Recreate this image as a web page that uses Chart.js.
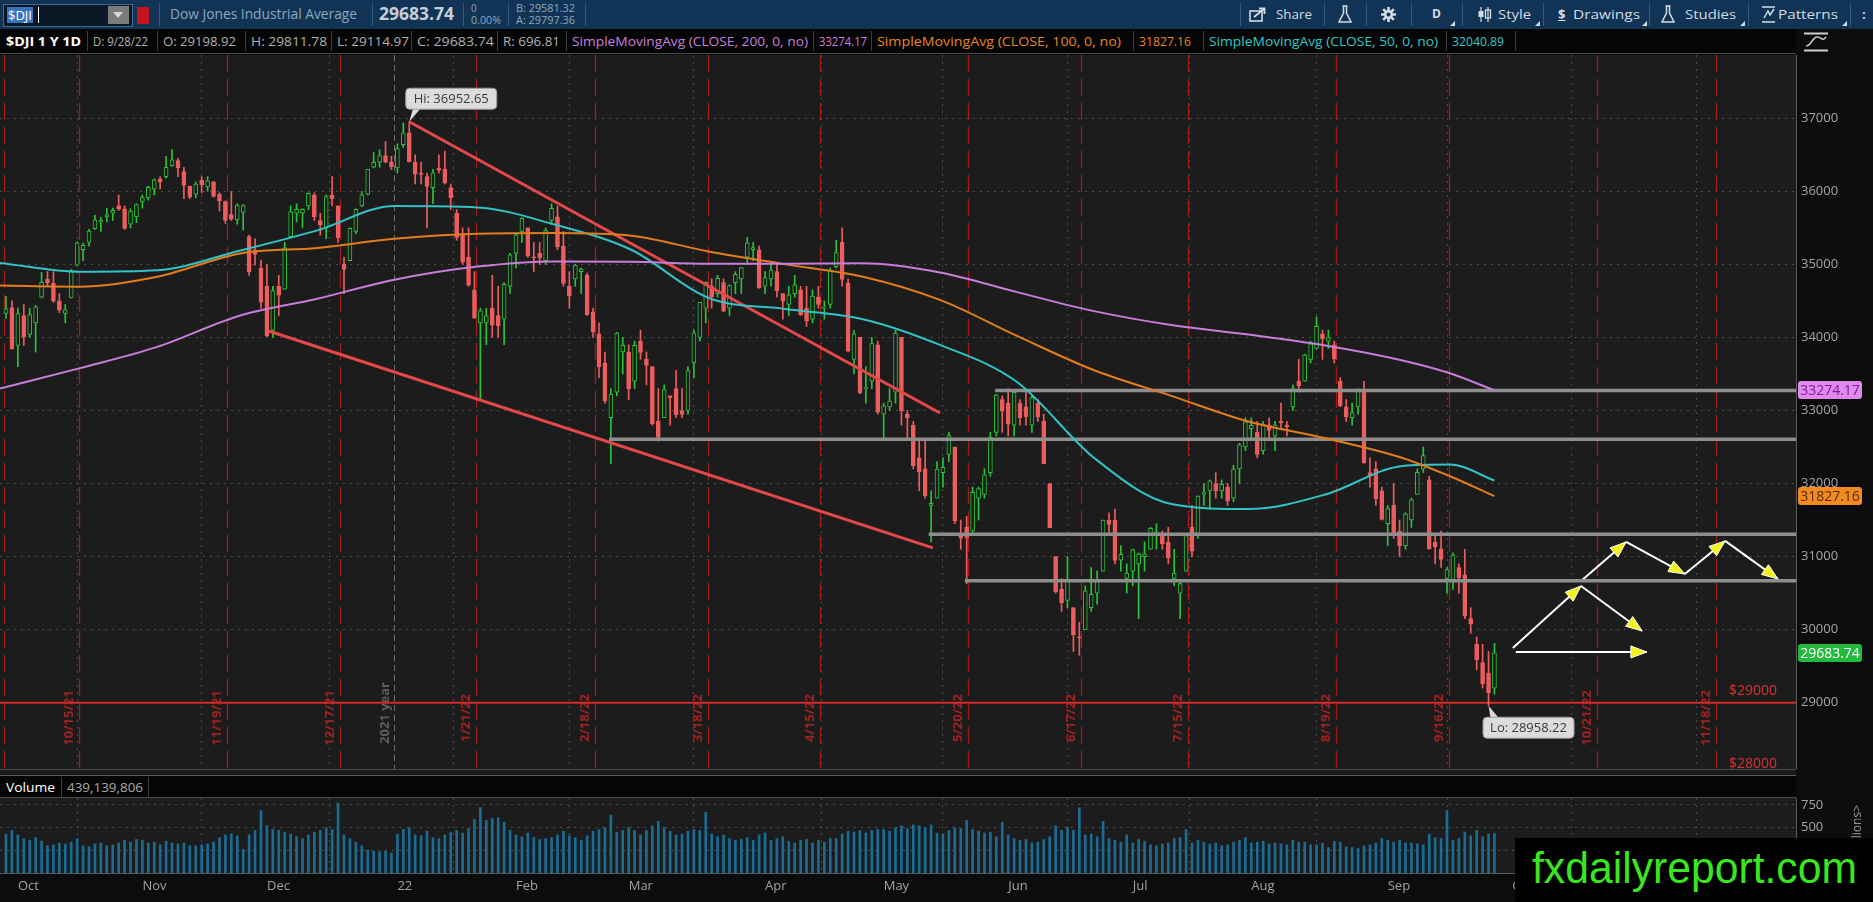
<!DOCTYPE html>
<html>
<head>
<meta charset="utf-8">
<title>$DJI 1 Y 1D</title>
<script src="https://cdn.jsdelivr.net/npm/chart.js@4.4.1/dist/chart.umd.min.js"></script>
<style>
  html, body { margin: 0; padding: 0; }
  body { width: 1873px; height: 902px; overflow: hidden; position: relative; background: #0c0c0c;
         font-family: "Open Sans", "Liberation Sans", sans-serif; color: #b0b0b0; }
  .abs { position: absolute; white-space: nowrap; }
  .fit { display: inline-block; transform-origin: 0 50%; white-space: nowrap; }
  #topbar { left: 0; top: 0; width: 1873px; height: 29px; background: #113456; }
  .sep { position: absolute; top: 3px; width: 1px; height: 23px; background: #2d5a80; }
  .tb { position: absolute; top: 5px; font-size: 13px; line-height: 18px; color: #d3dbe4; }
  #row2 { left: 0; top: 29px; width: 1796px; height: 24px; background: #050505; border-bottom: 1px solid #4a4a4a; }
  .cell { position: absolute; top: 2px; height: 20px; line-height: 20px; font-size: 13px; border-right: 1px solid #3c3c3c; }
  .cell span { margin-left: 6px; }
  canvas { position: absolute; left: 0; }
</style>
</head>
<body>

<div id="topbar" class="abs">
  <div class="abs" style="left:3px;top:4px;width:128px;height:21px;background:#0a1826;border:1px solid #3f6b93;"></div>
  <div class="abs" style="left:7px;top:7px;height:16px;line-height:16px;padding:0 1px;background:#3a72c2;color:#fff;font-size:13px;">$DJI</div>
  <div class="abs" style="left:38px;top:7px;width:1px;height:16px;background:#fff;"></div>
  <div class="abs" style="left:108px;top:6px;width:21px;height:18px;background:#7b7b7b;"></div>
  <svg class="abs" style="left:113px;top:12px" width="11" height="7"><path d="M0 0 H10 L5 6 Z" fill="#d8d8d8"/></svg>
  <div class="abs" style="left:137px;top:7px;width:12px;height:17px;background:#c3161b;"></div>
  <div class="sep" style="left:159px"></div>
  <div class="tb" style="left:170px;font-size:14px;color:#8ea6bf;top:5px"><span class="fit" data-w="187">Dow Jones Industrial Average</span></div>
  <div class="sep" style="left:372px"></div>
  <div class="tb" style="left:379px;top:4px;font-size:17px;font-weight:bold;color:#c6cfd8;line-height:20px"><span class="fit" data-w="75">29683.74</span></div>
  <div class="sep" style="left:463px"></div>
  <div class="abs" style="left:471px;top:2px;font-size:10px;line-height:12px;color:#8ea6bf">0<br><span class="fit" data-w="30">0.00%</span></div>
  <div class="sep" style="left:508px"></div>
  <div class="abs" style="left:516px;top:2px;font-size:10px;line-height:12px;color:#8ea6bf"><span class="fit" data-w="59">B: 29581.32</span><br><span class="fit" data-w="59">A: 29797.36</span></div>
  <div class="sep" style="left:585px"></div>

  <div class="sep" style="left:1240px"></div>
  <svg class="abs" style="left:1249px;top:6px" width="19" height="17"><rect x="1" y="5" width="12" height="10" fill="none" stroke="#d3dbe4" stroke-width="1.6"/><path d="M5 11 L15 3 M10 2.5 H15.5 V8" stroke="#d3dbe4" stroke-width="1.8" fill="none"/></svg>
  <div class="tb" style="left:1276px"><span class="fit" data-w="36">Share</span></div>
  <div class="sep" style="left:1324px"></div>
  <svg class="abs" style="left:1338px;top:5px" width="14" height="19"><path d="M4.5 1 H9.5 M5.5 1 V8 L1 17 H13 L8.5 8 V1" fill="none" stroke="#d3dbe4" stroke-width="1.5"/></svg>
  <div class="sep" style="left:1366px"></div>
  <svg class="abs" style="left:1380px;top:6px" width="17" height="17"><g stroke="#d3dbe4" stroke-width="2.6"><path d="M8.5 1 V16 M1 8.5 H16 M3.2 3.2 L13.8 13.8 M13.8 3.2 L3.2 13.8"/></g><circle cx="8.5" cy="8.5" r="4.6" fill="#d3dbe4"/><circle cx="8.5" cy="8.5" r="2" fill="#113456"/></svg>
  <div class="sep" style="left:1411px"></div>
  <div class="tb" style="left:1432px;font-weight:bold;font-size:12px">D</div>
  <svg class="abs" style="left:1450px;top:21px" width="5" height="5"><path d="M5 0 V5 H0 Z" fill="#d3dbe4"/></svg>
  <div class="sep" style="left:1462px"></div>
  <svg class="abs" style="left:1477px;top:6px" width="16" height="17"><path d="M4 1 V16 M11 1 V16" stroke="#d3dbe4" stroke-width="1.2"/><rect x="1.5" y="5" width="5" height="6" fill="#d3dbe4"/><rect x="8.5" y="4" width="5" height="8" fill="none" stroke="#d3dbe4" stroke-width="1.3"/></svg>
  <div class="tb" style="left:1498px"><span class="fit" data-w="33">Style</span></div>
  <svg class="abs" style="left:1535px;top:21px" width="5" height="5"><path d="M5 0 V5 H0 Z" fill="#d3dbe4"/></svg>
  <div class="sep" style="left:1543px"></div>
  <div class="tb" style="left:1558px;font-weight:bold;text-decoration:underline">$</div>
  <div class="tb" style="left:1573px"><span class="fit" data-w="67">Drawings</span></div>
  <svg class="abs" style="left:1642px;top:21px" width="5" height="5"><path d="M5 0 V5 H0 Z" fill="#d3dbe4"/></svg>
  <div class="sep" style="left:1649px"></div>
  <svg class="abs" style="left:1661px;top:5px" width="14" height="19"><path d="M4.5 1 H9.5 M5.5 1 V8 L1 17 H13 L8.5 8 V1" fill="none" stroke="#d3dbe4" stroke-width="1.5"/></svg>
  <div class="tb" style="left:1685px"><span class="fit" data-w="51">Studies</span></div>
  <svg class="abs" style="left:1740px;top:21px" width="5" height="5"><path d="M5 0 V5 H0 Z" fill="#d3dbe4"/></svg>
  <div class="sep" style="left:1748px"></div>
  <svg class="abs" style="left:1761px;top:5px" width="15" height="19"><path d="M1 2 H14 M1 17 H14 M3 13 L7 6 L9 10 L13 4" stroke="#d3dbe4" stroke-width="1.5" fill="none"/></svg>
  <div class="tb" style="left:1778px"><span class="fit" data-w="60">Patterns</span></div>
  <svg class="abs" style="left:1842px;top:21px" width="5" height="5"><path d="M5 0 V5 H0 Z" fill="#d3dbe4"/></svg>
  <div class="sep" style="left:1850px"></div>
  <div class="tb" style="left:1862px;font-weight:bold">:</div>
</div>

<div id="row2" class="abs">
  <div class="cell" style="left:0;width:87px;color:#ffffff;font-weight:bold"><span class="fit" data-w="75">$DJI 1 Y 1D</span></div>
  <div class="cell" style="left:87px;width:70px"><span class="fit" data-w="55">D: 9/28/22</span></div>
  <div class="cell" style="left:157px;width:88px"><span class="fit" data-w="73">O: 29198.92</span></div>
  <div class="cell" style="left:245px;width:86px"><span class="fit" data-w="76">H: 29811.78</span></div>
  <div class="cell" style="left:331px;width:80px"><span class="fit" data-w="72">L: 29114.97</span></div>
  <div class="cell" style="left:411px;width:86px"><span class="fit" data-w="77">C: 29683.74</span></div>
  <div class="cell" style="left:497px;width:69px"><span class="fit" data-w="57">R: 696.81</span></div>
  <div class="cell" style="left:566px;width:247px;color:#c97fdc"><span class="fit" data-w="236">SimpleMovingAvg (CLOSE, 200, 0, no)</span></div>
  <div class="cell" style="left:813px;width:58px;color:#c97fdc"><span class="fit" data-w="48">33274.17</span></div>
  <div class="cell" style="left:871px;width:262px;color:#e8841f"><span class="fit" data-w="244">SimpleMovingAvg (CLOSE, 100, 0, no)</span></div>
  <div class="cell" style="left:1133px;width:70px;color:#e8841f"><span class="fit" data-w="52">31827.16</span></div>
  <div class="cell" style="left:1203px;width:243px;color:#33c7c9"><span class="fit" data-w="229">SimpleMovingAvg (CLOSE, 50, 0, no)</span></div>
  <div class="cell" style="left:1446px;width:69px;color:#33c7c9"><span class="fit" data-w="52">32040.89</span></div>
</div>
<svg class="abs" style="left:1802px;top:32px" width="28" height="20"><path d="M2 1.5 H26 M2 18.5 H26" stroke="#d0d0d0" stroke-width="2"/><path d="M4 14 C 10 14, 10 5, 15 5 S 20 10, 24 5" stroke="#d0d0d0" stroke-width="1.6" fill="none"/></svg>

<canvas id="main" width="1873" height="714" style="top:55px"></canvas>

<div class="abs" style="left:0;top:769px;width:1796px;height:1px;background:#4a4a4a"></div>
<div class="abs" style="left:0;top:770px;width:1796px;height:5px;background:#1a1a1a"></div>
<div class="abs" style="left:0;top:775px;width:1796px;height:1px;background:#5a5a5a"></div>
<div class="abs" style="left:0;top:776px;width:1796px;height:21px;background:#050505"></div>
<div class="abs" style="left:0;top:797px;width:1796px;height:1px;background:#4a4a4a"></div>
<div class="cell abs" style="left:0;top:777px;width:61px;color:#ffffff"><span class="fit" data-w="49">Volume</span></div>
<div class="cell abs" style="left:61px;top:777px;width:87px;color:#a9a9a9"><span class="fit" data-w="76">439,139,806</span></div>

<canvas id="vol" width="1873" height="104" style="top:798px"></canvas>

<div class="abs" style="left:1515px;top:838px;width:358px;height:64px;background:#000000;overflow:hidden">
  <span class="fit" data-w="325" style="position:absolute;left:17px;top:4px;font-family:'Liberation Sans Narrow','Liberation Sans',sans-serif;font-size:44px;line-height:52px;color:#3ae61f">fxdailyreport.com</span>
</div>

<script>
// ---- daily candles, $DJI 9/29/21 .. 9/28/22 (one entry per trading day) ----
const opens = [
  34330, 34410,
  33890, 34300, 34040, 34200, 34550, 34800, 34740, 34500, 34330, 34540, 34990, 35200, 35300, 35490, 35580, 35650, 35700, 35800, 35760, 35550, 35650,
  35860, 35910, 36030, 36170, 36200, 36350, 36420, 36270, 36070, 35960, 36150, 36060, 36130, 35960, 35860, 35680, 35610, 35710, 35380, 35200, 34950,
  34700, 34100, 34700, 34660, 35380, 35700, 35700, 35800, 35950, 35600, 35500, 35950, 35800, 35000, 35050, 35450, 35800, 35960, 36330, 36400, 36490, 36400,
  36320, 36640, 36800, 36400, 36250, 36200, 36050, 36320, 36300, 36050, 35700, 35400, 35100, 34650, 34200, 34200, 34400, 34300, 34250, 34700,
  35150, 35450, 35500, 35100, 35150, 35050, 35600, 35650, 35250, 34700, 34800, 34900, 34850, 34350, 34050, 33650, 32900, 33250, 33800,
  33800, 33400, 33950, 33700, 33600, 32850, 32900, 33200, 33300, 33000, 33000, 33650, 34000, 34400, 34700, 34600, 34750, 34400, 34750, 34800, 35100, 35200, 35200,
  34700, 34800, 34900, 34600, 34450, 34600, 34650, 34400, 34250, 34550, 34400, 34450, 34970, 35300, 34740, 33700, 34000, 33300, 33400, 33900,
  32950, 33050, 33250, 34000, 32950, 32800, 32350, 32200, 31700, 31800, 32150, 32400, 32500, 31300, 31400, 31350, 31800, 31850, 32150, 32700, 33150,
  33100, 32800, 33100, 33050, 32800, 33100, 32850, 32000, 31000, 30550, 30400, 30300, 29900, 30000, 30300, 30500, 30800, 31500, 31500, 30950, 30700,
  30800, 30900, 31000, 31100, 31300, 31300, 31200, 30700, 30500, 30800, 31400, 31300, 31850, 31900, 32000, 31900, 31950, 31800, 32200, 32500,
  32750, 32700, 32450, 32800, 32650, 32850, 32800, 33050, 33400, 33400, 33700, 33850, 34050, 33950, 33900, 33400, 33050, 32900, 33050, 33250, 32150, 32200, 31900,
  31450, 31700, 31350, 31150, 31500, 31850, 32200, 32050, 31200, 31100, 30700, 30650, 30850, 30750, 30150, 29800, 29550, 29400, 29198.92
];
const highs = [
  34560, 34500,
  34400, 34450, 34400, 34440, 34890, 34900, 34900, 34600, 34450, 34930, 35310, 35290, 35480, 35670, 35640, 35770, 35770, 35950, 35800, 35760, 35830,
  35950, 36070, 36170, 36200, 36480, 36570, 36450, 36330, 36070, 36130, 36200, 36200, 36140, 35980, 35870, 36000, 35830, 35820, 35400, 35350, 35060,
  35000, 34700, 34850, 35300, 35800, 35830, 35760, 35980, 35980, 35700, 35950, 36200, 35800, 35100, 35500, 35760, 36000, 36300, 36530, 36570, 36680, 36480,
  36650, 36935, 36952.65, 36500, 36400, 36250, 36300, 36500, 36550, 36100, 35750, 35500, 35500, 34900, 34400, 34400, 34850, 34700, 34750, 35150,
  35420, 35640, 35500, 35300, 35300, 35500, 35830, 35800, 35450, 34900, 35000, 34950, 34880, 34400, 34200, 33800, 33300, 34070, 34000,
  33900, 33950, 34100, 33800, 33600, 33300, 33350, 33200, 33550, 33300, 33600, 34100, 34480, 34760, 34800, 34850, 34800, 34720, 34900, 34960, 35370, 35300, 35250,
  34900, 35000, 35000, 34600, 34700, 34850, 34700, 34700, 34650, 34700, 34500, 34950, 35330, 35500, 34800, 34100, 34000, 33600, 34000, 33950,
  33100, 33300, 34100, 34000, 33000, 32850, 32600, 32600, 31900, 32300, 32350, 32700, 32500, 31500, 31550, 31950, 31950, 32200, 32700, 33220, 33200,
  33300, 33250, 33150, 33250, 33200, 33150, 32950, 32000, 31000, 30700, 31000, 30300, 30100, 30600, 30850, 30800, 31500, 31600, 31650, 31150, 30900,
  31100, 31050, 31200, 31400, 31450, 31350, 31400, 31100, 30650, 31300, 31700, 31830, 32000, 32050, 32150, 32050, 32000, 32250, 32550, 32900,
  32900, 32850, 32850, 32900, 32850, 33100, 32850, 33350, 33700, 33770, 33950, 34280, 34100, 34100, 33950, 33450, 33150, 33100, 33300, 33400, 32350, 32300, 31950,
  31700, 32000, 31500, 31600, 31800, 32200, 32500, 32100, 31300, 31350, 30850, 31050, 30900, 31100, 30300, 29900, 29800, 29700, 29811.78
];
const lows = [
  34260, 33840,
  33600, 33890, 34000, 33800, 34540, 34700, 34480, 34340, 34200, 34540, 34990, 35050, 35250, 35480, 35450, 35580, 35600, 35740, 35480, 35500, 35570,
  35770, 35880, 35950, 36030, 36180, 36340, 36200, 35900, 35900, 35910, 35980, 36000, 35920, 35730, 35560, 35600, 35550, 35470, 34850, 34990, 34400,
  34010, 34000, 34300, 34660, 35380, 35580, 35500, 35750, 35600, 35400, 35350, 35800, 35300, 34600, 35050, 35420, 35790, 35950, 36320, 36330, 36390, 36300,
  36250, 36600, 36400, 36100, 36100, 35500, 35830, 36250, 36100, 35750, 35330, 35000, 34700, 34260, 33150, 33900, 34000, 34000, 33900, 34600,
  34950, 35300, 35100, 34900, 35000, 35000, 35550, 35200, 34700, 34400, 34700, 34600, 34300, 34000, 33450, 33100, 32272, 33200, 33500,
  33150, 33300, 33700, 33350, 32800, 32580, 32900, 32800, 32900, 32900, 32950, 33450, 33950, 34200, 34400, 34550, 34350, 34300, 34600, 34600, 35000, 35050, 34670,
  34600, 34700, 34550, 34250, 34300, 34550, 34300, 34150, 34200, 34400, 34250, 34400, 34950, 34700, 33800, 33500, 33230, 33100, 33300, 32950,
  32600, 33000, 33100, 32800, 32600, 32200, 31900, 31800, 31200, 31800, 31950, 32300, 31450, 31100, 30630, 31300, 31500, 31800, 32100, 32650, 32700,
  32650, 32650, 32800, 32800, 32700, 32850, 32270, 31400, 30500, 30250, 30300, 29700, 29650, 30000, 30250, 30350, 30800, 31300, 30900, 30800, 30500,
  30600, 30150, 30800, 31100, 31100, 31100, 30900, 30600, 30150, 30800, 31000, 31250, 31700, 31650, 31800, 31800, 31700, 31750, 32000, 32450,
  32600, 32350, 32400, 32600, 32450, 32750, 32650, 33000, 33250, 33400, 33650, 33850, 33700, 33850, 33650, 33050, 32850, 32800, 32950, 32280, 31950, 31700, 31500,
  31150, 31250, 31000, 31100, 31400, 31850, 32150, 31100, 30900, 30850, 30500, 30550, 30500, 30150, 29950, 29450, 29200, 28958.22, 29114.97
];
const closes = [
  34390, 33844,
  34326, 34003, 34314, 34417, 34755, 34746, 34496, 34378, 34377, 34912, 35295, 35259, 35457, 35609, 35603, 35677, 35741, 35757, 35491, 35731, 35820,
  35913, 36053, 36158, 36124, 36328, 36432, 36320, 36080, 35921, 36100, 36087, 36142, 35931, 35870, 35602, 35619, 35813, 35804, 34899, 35136, 34484,
  34022, 34640, 34580, 35227, 35719, 35754, 35755, 35971, 35651, 35545, 35927, 35898, 35365, 34932, 35493, 35754, 35951, 36302, 36398, 36488, 36398, 36338,
  36585, 36800, 36407, 36236, 36231, 36068, 36252, 36290, 36114, 35912, 35369, 35029, 34715, 34265, 34365, 34297, 34168, 34160, 34725, 35132,
  35405, 35629, 35111, 35089, 35091, 35463, 35768, 35241, 34738, 34566, 34989, 34934, 34312, 34079, 33597, 33131, 33224, 34058, 33893,
  33295, 33891, 33795, 33615, 32818, 32633, 33286, 33174, 32944, 32945, 33545, 34064, 34481, 34755, 34553, 34808, 34358, 34708, 34862, 34955, 35294, 35229, 34678,
  34818, 34922, 34641, 34497, 34583, 34721, 34309, 34221, 34565, 34452, 34412, 34912, 35161, 34793, 33811, 34049, 33240, 33302, 33916, 32977,
  33062, 33128, 34061, 32998, 32899, 32246, 32161, 31834, 31730, 32197, 32223, 32655, 31490, 31253, 31262, 31880, 31929, 32120, 32637, 33213, 32990,
  32813, 33248, 32900, 32916, 33180, 32910, 32273, 31393, 30517, 30365, 30669, 29927, 29889, 30530, 30483, 30677, 31501, 31439, 30947, 31029, 30775,
  31097, 31038, 31037, 31385, 31338, 31174, 30982, 30773, 30630, 31288, 31073, 31827, 31875, 32036, 31899, 31990, 31762, 32198, 32530, 32845,
  32798, 32397, 32813, 32727, 32803, 32833, 32775, 33310, 33337, 33761, 33913, 34152, 33981, 33999, 33707, 33064, 32910, 32970, 33292, 32283, 32099, 31791, 31510,
  31656, 31318, 31146, 31581, 31775, 32152, 32381, 31105, 31135, 30962, 30822, 31020, 30706, 30184, 30077, 29590, 29260, 29135, 29683.74
];
// volume, millions of shares
const volumes = [
  430, 470,
  420, 380, 360, 390, 350, 300, 310, 330, 320, 340, 380, 300, 290, 320, 330, 300, 310, 330, 360, 340, 370,
  360, 330, 340, 310, 350, 330, 320, 330, 300, 300, 310, 320, 340, 390, 420, 430, 410, 260, 420, 470, 690,
  520, 480, 470, 450, 430, 400, 380, 420, 450, 470, 500, 480, 770, 420, 380, 340, 300, 250, 240, 230, 240, 220,
  430, 480, 500, 420, 410, 460, 390, 380, 420, 450, 470, 440, 490, 590, 720, 580, 600, 610, 560, 470,
  420, 400, 440, 390, 370, 380, 390, 420, 460, 410, 390, 360, 410, 460, 480, 500, 640, 450, 470,
  500, 470, 420, 470, 520, 570, 500, 460, 420, 430, 460, 480, 470, 670, 430, 400, 420, 380, 360, 370, 390, 360, 420,
  440, 360, 380, 400, 350, 330, 360, 370, 330, 360, 340, 380, 380, 430, 460, 450, 470, 440, 470, 480,
  480, 460, 500, 520, 490, 530, 520, 500, 530, 440, 430, 470, 500, 490, 580, 480, 460, 440, 450, 400, 560,
  420, 380, 360, 370, 330, 340, 370, 400, 520, 470, 500, 470, 720, 420, 430, 400, 570, 380, 360, 340, 420,
  330, 370, 350, 310, 300, 320, 330, 380, 390, 480, 330, 360, 340, 320, 330, 300, 310, 340, 360, 390,
  330, 340, 350, 320, 330, 320, 310, 360, 340, 340, 310, 310, 330, 280, 350, 340, 290, 280, 270, 300, 310, 330, 380,
  360, 340, 360, 330, 330, 320, 310, 430, 390, 380, 690, 360, 380, 450, 410, 470, 400, 430, 439.14
];

const smaIdx = [-1, 12.5, 25.5, 39.5, 52.5, 65.5, 79.5, 92.5, 105.5, 118.5, 131.5, 144.5, 157.5, 170.5, 183.5, 196.5, 209.5, 222.5, 235.5, 243.5, 251];
const sma200 = [33300, 33580, 33870, 34300, 34530, 34790, 34970, 35040, 35035, 35010, 35010, 35015, 34890, 34620, 34360, 34170, 34040, 33890, 33685, 33509, 33274.17];
const sma100 = [34710, 34695, 34830, 35150, 35225, 35350, 35420, 35430, 35393, 35175, 35000, 34830, 34513, 34020, 33550, 33200, 32850, 32620, 32350, 32100, 31827.16];
const sma50  = [35020, 34900, 34920, 35190, 35465, 35800, 35780, 35545, 35197, 34540, 34390, 34250, 33897, 33390, 32350, 31720, 31650, 31850, 32240, 32260, 32040.89];

// axis ticks
const monthIdx = [1.5, 22.5, 43.5, 65.5, 85.5, 104.5, 127.5, 147.5, 168.5, 189.5, 209.5, 232.5, 253.5, 274.5, 295.5];
const monthLabels = ['Oct', 'Nov', 'Dec', '22', 'Feb', 'Mar', 'Apr', 'May', 'Jun', 'Jul', 'Aug', 'Sep', 'Oct'];
const priceTicks = [29000, 30000, 31000, 32000, 33000, 34000, 35000, 36000, 37000];
const volTicks = [250, 500, 750];

// option expirations (vertical dashed markers)
const expiryIdx = [-0.35, 12.3, 37.3, 56.3, 79.3, 99.3, 118.3, 137.3, 162.3, 181.3, 199.3, 224.3, 243.3, 268.3, 288.3];
const expiryLabels = ['', '10/15/21', '11/19/21', '12/17/21', '1/21/22', '2/18/22', '3/18/22', '4/15/22', '5/20/22', '6/17/22', '7/15/22', '8/19/22', '9/16/22', '10/21/22', '11/18/22'];
const yearIdx = 65.5;

// drawings on the chart (trading-day index, price)
const upperTrend = [[68, 36952.65], [157.5, 32966]];
const lowerTrend = [[44.3, 34088], [156.3, 31118]];
const levelPrices = [33275, 32605, 31305, 30670];
const levelStart = [166.8, 101.7, 155.6, 161.7];
const redLevel = 29000;
const priceMarks = [29000, 28000];
const arrowPaths = [
  [[254.6, 29694], [276.7, 29694]],
  [[254.1, 29749], [265.6, 30598]],
  [[265.6, 30598], [275.9, 29982]],
  [[265.6, 30666], [273.2, 31200]],
  [[273.2, 31200], [283.1, 30762]],
  [[283.1, 30762], [289.9, 31214]],
  [[289.9, 31214], [298.8, 30694]]
];
const hiPoint = [68, 36952.65];
const loPoint = [250, 28958.22];
const lastValues = [33274.17, 31827.16, 29683.74];

// ---- rendering ----
const XMIN = -1.01, XMAX = 301.85;
const YMIN = 28092, YMAX = 37866;
const GREEN = '#2bc338', RED = '#ee5d5d', PLOT_BG = '#1c1c1c';
const PURPLE = '#c77dd9', ORANGE = '#e37d1c', CYAN = '#31c3c6';
const FONT = '"Open Sans", "Liberation Sans", sans-serif';

Chart.defaults.font.family = FONT;
Chart.defaults.animation = false;

const days = closes.map((c, i) => i);
const isUp = i => i !== undefined && closes[i] >= opens[i];
const pts = pairs => pairs.map(p => ({x: p[0], y: p[1]}));

function lineDs(label, data, color, width, extra) {
  return Object.assign({
    type: 'line', label, data, borderColor: color, borderWidth: width,
    pointRadius: 0, fill: false, order: 1
  }, extra || {});
}

// keep the plot flush with the canvas edges: no room reserved for end labels
function rightAxisFit(s) {
  s.width = 77;
  s.paddingTop = 0;
  s.paddingBottom = 0;
}

const panelBg = {
  id: 'panelBg',
  beforeDraw(chart) {
    const {ctx, chartArea: a} = chart;
    ctx.save();
    ctx.fillStyle = PLOT_BG;
    ctx.fillRect(a.left, a.top, a.right - a.left, a.bottom - a.top);
    ctx.restore();
  }
};

const expiryMarks = {
  id: 'expiryMarks',
  beforeDatasetsDraw(chart) {
    const {ctx, chartArea: a, scales: {x}} = chart;
    ctx.save();
    ctx.beginPath();
    ctx.rect(a.left, a.top, a.right - a.left, a.bottom - a.top);
    ctx.clip();
    ctx.font = 'bold 13px ' + FONT;
    ctx.textAlign = 'center';
    ctx.textBaseline = 'middle';

    const yx = Math.round(x.getPixelForValue(yearIdx)) + 0.5;
    ctx.strokeStyle = '#6e6e6e';
    ctx.lineWidth = 1;
    ctx.setLineDash([6, 4]);
    ctx.beginPath(); ctx.moveTo(yx, a.top); ctx.lineTo(yx, a.bottom); ctx.stroke();
    ctx.save();
    ctx.translate(yx - 9, a.bottom - 56);
    ctx.rotate(-Math.PI / 2);
    ctx.fillStyle = '#5e5e5e';
    ctx.fillText('2021 year', 0, 0);
    ctx.restore();

    expiryIdx.forEach((v, k) => {
      const px = Math.round(x.getPixelForValue(v)) + 0.5;
      ctx.strokeStyle = '#a01d1d';
      ctx.lineWidth = 1.3;
      ctx.setLineDash([17, 7]);
      ctx.beginPath(); ctx.moveTo(px, a.top); ctx.lineTo(px, a.bottom); ctx.stroke();
      if (expiryLabels[k]) {
        ctx.save();
        ctx.translate(px - 10, a.bottom - 51);
        ctx.rotate(-Math.PI / 2);
        ctx.fillStyle = '#a02222';
        ctx.fillText(expiryLabels[k], 0, 0);
        ctx.restore();
      }
    });
    ctx.restore();
  }
};

function roundRect(ctx, x, y, w, h, r) {
  ctx.beginPath();
  ctx.moveTo(x + r, y);
  ctx.arcTo(x + w, y, x + w, y + h, r);
  ctx.arcTo(x + w, y + h, x, y + h, r);
  ctx.arcTo(x, y + h, x, y, r);
  ctx.arcTo(x, y, x + w, y, r);
  ctx.closePath();
}

const overlays = {
  id: 'overlays',
  afterDatasetsDraw(chart) {
    const {ctx, chartArea: a, scales: {x, y}} = chart;
    ctx.save();

    // arrowheads at the end of each projection segment
    chart.data.datasets.forEach((ds, i) => {
      if (!ds.label.startsWith('arrow')) return;
      const el = chart.getDatasetMeta(i).data;
      const p0 = el[0], p1 = el[1];
      const ang = Math.atan2(p1.y - p0.y, p1.x - p0.x);
      const len = 16, half = 6;
      const bx = p1.x - len * Math.cos(ang), by = p1.y - len * Math.sin(ang);
      ctx.beginPath();
      ctx.moveTo(p1.x, p1.y);
      ctx.lineTo(bx + half * Math.sin(ang), by - half * Math.cos(ang));
      ctx.lineTo(bx - half * Math.sin(ang), by + half * Math.cos(ang));
      ctx.closePath();
      ctx.fillStyle = '#f3f21d';
      ctx.fill();
      ctx.strokeStyle = '#ffffff';
      ctx.lineWidth = 1;
      ctx.stroke();
    });

    // price level marks
    ctx.font = '14px ' + FONT;
    ctx.fillStyle = '#d43434';
    ctx.textAlign = 'right';
    ctx.textBaseline = 'middle';
    priceMarks.forEach(p => {
      ctx.fillText('$' + p, a.right - 19, y.getPixelForValue(p) - 12);
    });

    // Hi / Lo callouts
    const callout = (txt, px, py, bx, by) => {
      const w = 91, h = 21;
      ctx.fillStyle = '#dcdcdc';
      ctx.strokeStyle = '#9a9a9a';
      ctx.lineWidth = 1;
      ctx.beginPath();
      if (by < py) { ctx.moveTo(px, py); ctx.lineTo(bx + 8, by + h - 1); ctx.lineTo(bx + 16, by + h - 1); }
      else { ctx.moveTo(px, py); ctx.lineTo(bx + 8, by + 1); ctx.lineTo(bx + 16, by + 1); }
      ctx.closePath();
      ctx.fill();
      roundRect(ctx, bx + 0.5, by + 0.5, w, h, 4);
      ctx.fill();
      ctx.stroke();
      ctx.fillStyle = '#3a3a3a';
      ctx.textAlign = 'center';
      ctx.textBaseline = 'middle';
      ctx.font = '13px ' + FONT;
      ctx.fillText(txt, bx + w / 2 + 0.5, by + h / 2 + 1);
    };
    const hx = x.getPixelForValue(hiPoint[0]), hy = y.getPixelForValue(hiPoint[1]);
    callout('Hi: ' + hiPoint[1].toFixed(2), hx, hy, hx - 4, hy - 34);
    const lx = x.getPixelForValue(loPoint[0]), ly = y.getPixelForValue(loPoint[1]);
    callout('Lo: ' + loPoint[1].toFixed(2), lx, ly, lx - 6, ly + 11);
    ctx.restore();
  },
  afterDraw(chart) {
    const {ctx, chartArea: a, scales: {y}} = chart;
    const styles = [['#e08aef', '#7c1e96'], ['#f08a22', '#5e2a00'], ['#22b93c', '#ffffff']];
    ctx.save();
    ctx.font = '14px ' + FONT;
    ctx.textAlign = 'center';
    ctx.textBaseline = 'middle';
    lastValues.forEach((v, k) => {
      const cy = Math.round(y.getPixelForValue(v));
      ctx.fillStyle = styles[k][0];
      roundRect(ctx, a.right + 2, cy - 9, 64, 18, 3);
      ctx.fill();
      ctx.fillStyle = styles[k][1];
      ctx.fillText(v.toFixed(2), a.right + 34, cy + 1);
    });
    ctx.restore();
  }
};

const mainDatasets = [
  {
    type: 'bar', label: 'wick', data: days.map(i => ({x: i, y: [lows[i], highs[i]]})),
    backgroundColor: c => isUp(c.dataIndex) ? GREEN : RED,
    barThickness: 1, grouped: false, order: 3
  },
  {
    type: 'bar', label: 'body', data: days.map(i => ({x: i, y: [opens[i], closes[i]]})),
    backgroundColor: c => isUp(c.dataIndex) ? PLOT_BG : RED,
    borderColor: c => isUp(c.dataIndex) ? GREEN : RED,
    borderWidth: 1, borderSkipped: false, barThickness: 4, minBarLength: 1, grouped: false, order: 2
  },
  lineDs('red level', [{x: XMIN, y: redLevel}, {x: XMAX, y: redLevel}], '#d42a2a', 2, {order: 4}),
  lineDs('SMA 200', pts(smaIdx.map((v, k) => [v, sma200[k]])), PURPLE, 2, {cubicInterpolationMode: 'monotone'}),
  lineDs('SMA 100', pts(smaIdx.map((v, k) => [v, sma100[k]])), ORANGE, 2, {cubicInterpolationMode: 'monotone'}),
  lineDs('SMA 50', pts(smaIdx.map((v, k) => [v, sma50[k]])), CYAN, 2, {cubicInterpolationMode: 'monotone'}),
  lineDs('upper trend', pts(upperTrend), '#e44848', 3),
  lineDs('lower trend', pts(lowerTrend), '#e44848', 3)
];
levelPrices.forEach((p, k) => {
  mainDatasets.push(lineDs('level ' + p, [{x: levelStart[k], y: p}, {x: XMAX, y: p}], '#8e8e8e', 3.5));
});
arrowPaths.forEach((seg, k) => {
  mainDatasets.push(lineDs('arrow ' + k, pts(seg), '#ffffff', 2));
});

new Chart(document.getElementById('main'), {
  type: 'bar',
  data: {datasets: mainDatasets},
  options: {
    responsive: false,
    events: [],
    layout: {padding: 0},
    plugins: {legend: {display: false}, tooltip: {enabled: false}},
    scales: {
      x: {
        type: 'linear', min: XMIN, max: XMAX, offset: false,
        afterBuildTicks: s => { s.ticks = monthIdx.map(v => ({value: v})); },
        afterFit: s => { s.height = 0; s.paddingLeft = 0; s.paddingRight = 0; },
        ticks: {display: false},
        grid: {color: '#4c4c4c', drawTicks: false, lineWidth: 1},
        border: {display: false, dash: [2, 5]}
      },
      y: {
        position: 'right', min: YMIN, max: YMAX,
        afterBuildTicks: s => { s.ticks = priceTicks.map(v => ({value: v})); },
        afterFit: rightAxisFit,
        ticks: {color: '#a6a6a6', font: {size: 13}, padding: 5, callback: v => String(v)},
        grid: {color: '#4c4c4c', drawTicks: false, lineWidth: 1},
        border: {display: true, color: '#5a5a5a', width: 1, dash: [2, 5]}
      }
    }
  },
  plugins: [panelBg, expiryMarks, overlays]
});

const volumeNote = {
  id: 'volumeNote',
  afterDraw(chart) {
    const {ctx, chartArea: a} = chart;
    ctx.save();
    ctx.translate(a.right + 62, a.top + 7);
    ctx.rotate(-Math.PI / 2);
    ctx.font = '12px ' + FONT;
    ctx.fillStyle = '#9a9a9a';
    ctx.textAlign = 'right';
    ctx.textBaseline = 'middle';
    ctx.fillText('Millions>', 0, 0);
    ctx.restore();
  }
};

new Chart(document.getElementById('vol'), {
  type: 'bar',
  data: {
    datasets: [{
      label: 'Volume', data: days.map(i => ({x: i, y: volumes[i]})),
      backgroundColor: '#1b6c93', barThickness: 2
    }]
  },
  options: {
    responsive: false,
    events: [],
    layout: {padding: 0},
    plugins: {legend: {display: false}, tooltip: {enabled: false}},
    scales: {
      x: {
        type: 'linear', min: XMIN, max: XMAX, offset: false,
        afterBuildTicks: s => { s.ticks = monthIdx.map(v => ({value: v})); },
        afterFit: s => { s.height = 29; s.paddingLeft = 0; s.paddingRight = 0; },
        ticks: {
          color: '#a3a3a3', font: {size: 13}, padding: 5, align: 'start', labelOffset: 3,
          autoSkip: false, maxRotation: 0, minRotation: 0,
          callback: (v, i) => monthLabels[i] || ''
        },
        grid: {color: '#4c4c4c', drawTicks: false, lineWidth: 1},
        border: {display: true, color: '#5a5a5a', dash: [2, 5]}
      },
      y: {
        position: 'right', min: 0, max: 827,
        afterBuildTicks: s => { s.ticks = volTicks.map(v => ({value: v})); },
        afterFit: rightAxisFit,
        ticks: {color: '#a6a6a6', font: {size: 13}, padding: 5, callback: v => String(v)},
        grid: {color: '#4c4c4c', drawTicks: false, lineWidth: 1},
        border: {display: true, color: '#5a5a5a', width: 1, dash: [2, 5]}
      }
    }
  },
  plugins: [panelBg, volumeNote]
});

// squeeze header texts into the widths they take in the terminal
document.querySelectorAll('[data-w]').forEach(el => {
  const w = el.getBoundingClientRect().width;
  if (w > 0) el.style.transform = 'scaleX(' + (Number(el.dataset.w) / w) + ')';
});
</script>
</body>
</html>
